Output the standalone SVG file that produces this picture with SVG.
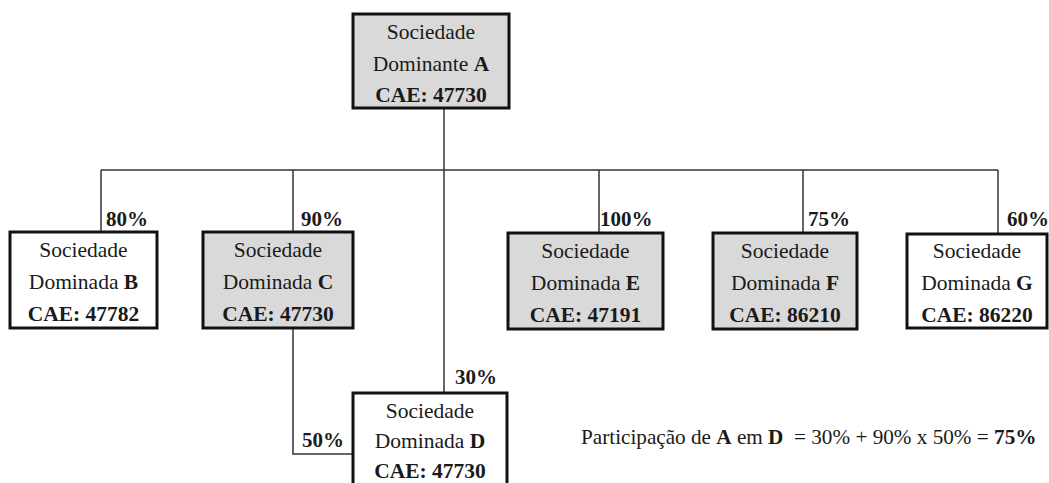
<svg xmlns="http://www.w3.org/2000/svg" width="1049" height="483" viewBox="0 0 1049 483">
  <style>
    .box { stroke: #111; stroke-width: 3; }
    .grey { fill: #d9d9d9; }
    .white { fill: #ffffff; }
    .t { font-family: 'Liberation Serif', 'Tinos', 'DejaVu Serif', serif; font-size: 21.5px; fill: #1a1a1a; text-anchor: middle; }
    .b { font-weight: bold; }
    .pct { font-family: 'Liberation Serif', 'Tinos', 'DejaVu Serif', serif; font-size: 21px; font-weight: bold; fill: #1a1a1a; }
    .wire { fill: none; stroke: #333; stroke-width: 1.5; }
    .formula { font-family: 'Liberation Serif', 'Tinos', 'DejaVu Serif', serif; font-size: 21.2px; fill: #1a1a1a; white-space: pre; }
  </style>
  <rect width="1049" height="483" fill="#ffffff"/>

  <!-- ownership connectors -->
  <g id="connectors">
    <path class="wire" d="M444 108 V393"/>
    <path class="wire" d="M101 170 H998"/>
    <path class="wire" d="M101 170 V232"/>
    <path class="wire" d="M293 170 V232"/>
    <path class="wire" d="M599 170 V233"/>
    <path class="wire" d="M803 170 V233"/>
    <path class="wire" d="M998 170 V234"/>
    <path class="wire" d="M293 329 V454 H353"/>
    <text class="pct" x="106" y="226">80%</text>
    <text class="pct" x="301" y="226">90%</text>
    <text class="pct" x="600" y="226">100%</text>
    <text class="pct" x="808" y="226">75%</text>
    <text class="pct" x="1007" y="226">60%</text>
    <text class="pct" x="455" y="384">30%</text>
    <text class="pct" x="302" y="447">50%</text>
  </g>

  <g id="node-A">
    <rect class="box grey" x="353" y="14" width="156" height="94"/>
    <text class="t" x="431" y="39">Sociedade</text>
    <text class="t" x="431" y="71">Dominante <tspan class="b">A</tspan></text>
    <text class="t b" x="431" y="102">CAE: 47730</text>
  </g>

  <g id="node-B">
    <rect class="box white" x="10" y="232" width="147" height="96"/>
    <text class="t" x="83.5" y="257">Sociedade</text>
    <text class="t" x="83.5" y="289">Dominada <tspan class="b">B</tspan></text>
    <text class="t b" x="83.5" y="321">CAE: 47782</text>
  </g>

  <g id="node-C">
    <rect class="box grey" x="203" y="232" width="150" height="96"/>
    <text class="t" x="278" y="257">Sociedade</text>
    <text class="t" x="278" y="289">Dominada <tspan class="b">C</tspan></text>
    <text class="t b" x="278" y="321">CAE: 47730</text>
  </g>

  <g id="node-E">
    <rect class="box grey" x="508" y="233" width="155" height="96"/>
    <text class="t" x="585.5" y="258">Sociedade</text>
    <text class="t" x="585.5" y="290">Dominada <tspan class="b">E</tspan></text>
    <text class="t b" x="585.5" y="322">CAE: 47191</text>
  </g>

  <g id="node-F">
    <rect class="box grey" x="713" y="233" width="144" height="96"/>
    <text class="t" x="785" y="258">Sociedade</text>
    <text class="t" x="785" y="290">Dominada <tspan class="b">F</tspan></text>
    <text class="t b" x="785" y="322">CAE: 86210</text>
  </g>

  <g id="node-G">
    <rect class="box white" x="907" y="234" width="140" height="94"/>
    <text class="t" x="977" y="258">Sociedade</text>
    <text class="t" x="977" y="290">Dominada <tspan class="b">G</tspan></text>
    <text class="t b" x="977" y="322">CAE: 86220</text>
  </g>

  <g id="node-D">
    <rect class="box white" x="353" y="393" width="154" height="100"/>
    <text class="t" x="430" y="418">Sociedade</text>
    <text class="t" x="430" y="448">Dominada <tspan class="b">D</tspan></text>
    <text class="t b" x="430" y="478">CAE: 47730</text>
  </g>

  <g id="note">
    <text class="formula" x="581" y="444">Participação de <tspan font-weight="bold">A</tspan> em <tspan font-weight="bold">D</tspan>  = 30% + 90% x 50% = <tspan font-weight="bold">75%</tspan></text>
  </g>
</svg>
